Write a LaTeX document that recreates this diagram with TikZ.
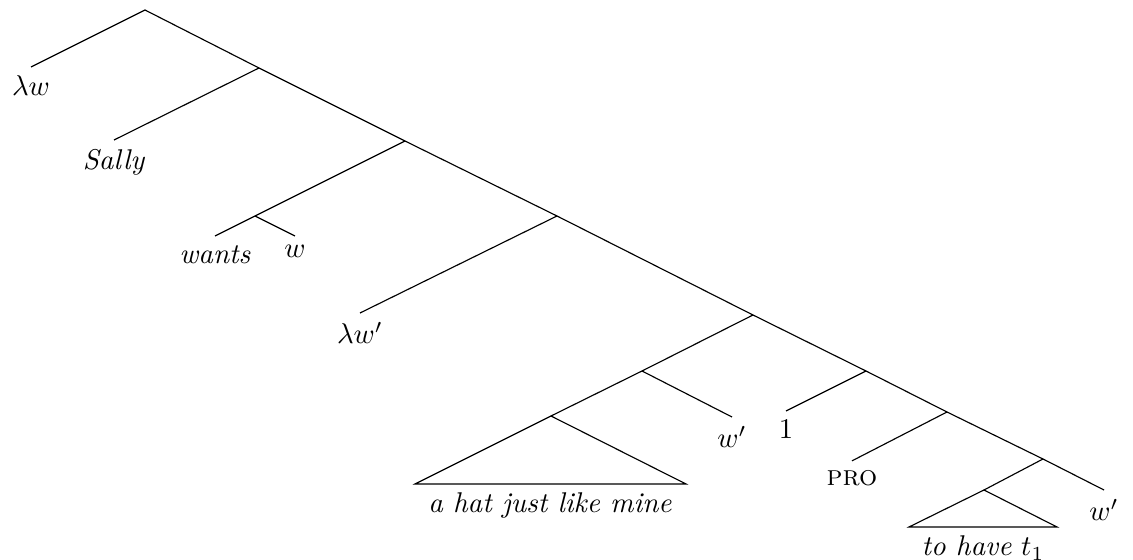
\documentclass[tikz,border=0pt]{standalone}
\begin{document}
\begin{tikzpicture}
[x=0.35pt,y=-0.35pt,every node/.style={anchor=north,inner sep=3pt}]
\useasboundingbox (0,0) rectangle (1133,560);
% spine of the tree
\coordinate (r) at (145,10);
\foreach \n/\x/\y in {n1/259/68, n2/405/141, n3/557/216, n4/753/315, n5/866/371, n6/947/412, n7/1043/459}
{
  \coordinate (\n) at (\x,\y);
}
% inner nodes off the spine
\coordinate (v) at (255,216);
\coordinate (dp) at (642,371);
\coordinate (hat) at (551,416);
\coordinate (inf) at (984,490);
\coordinate (hatl) at (415,484);
\coordinate (hatr) at (686,484);
\coordinate (infl) at (909,527);
\coordinate (infr) at (1057,527);
% leaves
\node (lw) at (31,67) {$\lambda w$};
\node (sally) at (114,140) {\textit{Sally}};
\node (wants) at (215,236) {\textit{wants}};
\node (w) at (295,236) {$w$};
\node (lwp) at (360,313) {$\lambda w'$};
\node (wp) at (732,417) {$w'$};
\node (one) at (786,411) {$1$};
\node[yshift=-1pt] (pro) at (852,458) {\textsc{pro}};
\node (wpp) at (1104,490) {$w'$};
\node (hattext) at (550,484) {\textit{a hat just like mine}};
\node (inftext) at (983,527) {\textit{to have} $t_1$};
\draw (lw.north) to (r) to (n1) to (n2) to (n3) to (n4) to (n5) to (n6) to (n7) to (wpp.north);
\draw (n1) to (sally.north);
\draw (n2) to (v) to (wants.north);
\draw (v) to (w.north);
\draw (n3) to (lwp.north);
\draw (n4) to (dp) to (hat);
\draw (dp) to (wp.north);
\draw (n5) to (one.north);
\draw (n6) to (pro.north);
\draw (n7) to (inf);
\draw (hat) to (hatl) to (hatr) to (hat);
\draw (inf) to (infl) to (infr) to (inf);
\end{tikzpicture}
\end{document}
